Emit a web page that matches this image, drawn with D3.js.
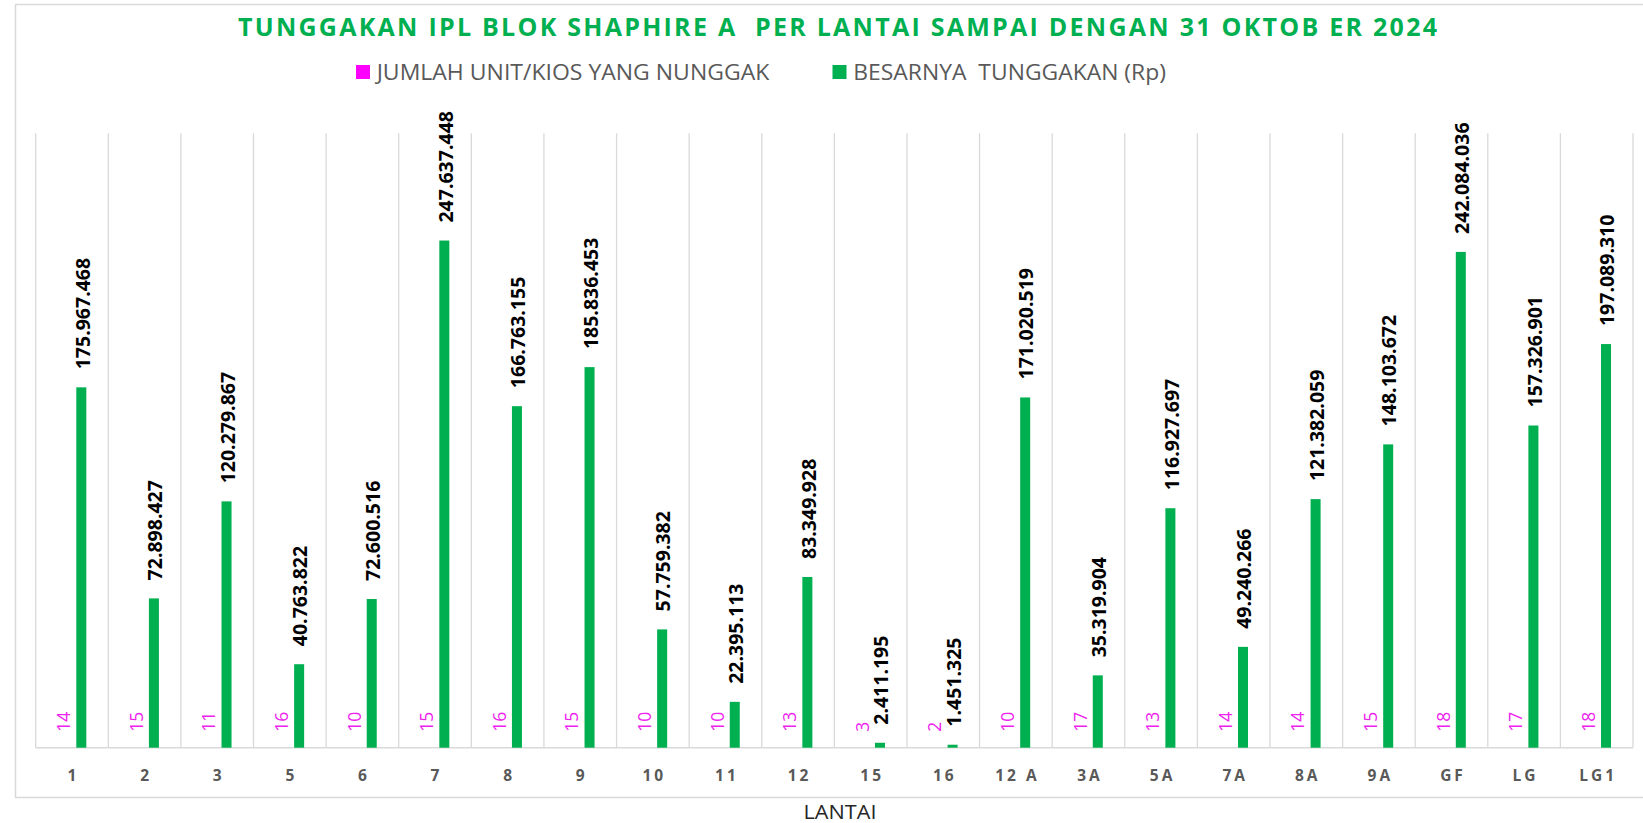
<!DOCTYPE html>
<html>
<head>
<meta charset="utf-8">
<script src="https://cdn.jsdelivr.net/npm/d3@7"></script>
<style>
  html, body { margin: 0; padding: 0; background: #ffffff; }
  svg { display: block; }
  text { white-space: pre; }
</style>
</head>
<body>
<svg id="chart" width="1643" height="823"></svg>
<script>
// ---------- DATA ----------
const chartTitle = "TUNGGAKAN IPL BLOK SHAPHIRE A  PER LANTAI SAMPAI DENGAN 31 OKTOB ER 2024";
const xAxisTitle = "LANTAI";
const categories = ["1","2","3","5","6","7","8","9","10","11","12","15","16","12 A","3A","5A","7A","8A","9A","GF","LG","LG1"];
const seriesNames = ["JUMLAH UNIT/KIOS YANG NUNGGAK", "BESARNYA  TUNGGAKAN (Rp)"];
const unitCounts = [14,15,11,16,10,15,16,15,10,10,13,3,2,10,17,13,14,14,15,18,17,18];
const arrears = [175967468,72898427,120279867,40763822,72600516,247637448,166763155,185836453,57759382,22395113,83349928,2411195,1451325,171020519,35319904,116927697,49240266,121382059,148103672,242084036,157326901,197089310];
const yDomainMax = 300000000;

// ---------- LAYOUT / STYLE ----------
const W = 1643, H = 823;
const plot = { left: 35.7, right: 1633, top: 133.3, bottom: 747.7 };
const colors = { count: "#ff00ff", amount: "#00b050" };
const grid = "#d9d9d9";

const svg = d3.select("#chart");

// outer chart border
svg.append("rect")
  .attr("x", 15.5).attr("y", 4.5)
  .attr("width", 1640).attr("height", 793)
  .attr("fill", "none").attr("stroke", grid).attr("stroke-width", 1.5);

// scales
const x0 = d3.scaleBand().domain(categories).range([plot.left, plot.right]).paddingInner(0).paddingOuter(0);
const x1 = d3.scaleBand().domain(seriesNames).range([0, x0.bandwidth()]).paddingInner(0.462).paddingOuter(1.18);
const y = d3.scaleLinear().domain([0, yDomainMax]).range([plot.bottom, plot.top]);

// vertical gridlines at category boundaries
const bounds = categories.map(c => x0(c)).concat([x0(categories[categories.length - 1]) + x0.bandwidth()]);
svg.append("g").selectAll("line").data(bounds).join("line")
  .attr("x1", d => d).attr("x2", d => d)
  .attr("y1", plot.top).attr("y2", plot.bottom)
  .attr("stroke", grid).attr("stroke-width", 1.3);

// baseline
svg.append("line")
  .attr("x1", plot.left).attr("x2", plot.right)
  .attr("y1", y(0)).attr("y2", y(0))
  .attr("stroke", grid).attr("stroke-width", 1.5);

const rows = categories.map((c, i) => ({ cat: c, count: unitCounts[i], amount: arrears[i] }));

// count bars (tiny on this scale)
svg.append("g").selectAll("rect").data(rows).join("rect")
  .attr("x", d => x0(d.cat) + x1(seriesNames[0]))
  .attr("width", x1.bandwidth())
  .attr("y", d => y(d.count))
  .attr("height", d => y(0) - y(d.count))
  .attr("fill", colors.count);

// amount bars
svg.append("g").selectAll("rect").data(rows).join("rect")
  .attr("x", d => x0(d.cat) + x1(seriesNames[1]))
  .attr("width", x1.bandwidth())
  .attr("y", d => y(d.amount))
  .attr("height", d => y(0) - y(d.amount))
  .attr("fill", colors.amount);

const fmt = v => d3.format(",")(v).replace(/,/g, ".");

// amount labels
svg.append("g").selectAll("text").data(rows).join("text")
  .attr("transform", d => {
    const cx = x0(d.cat) + x1(seriesNames[1]) + x1.bandwidth() / 2 + 0.8;
    const cy = y(d.amount) - 18;
    return `translate(${cx},${cy}) rotate(-90)`;
  })
  .attr("text-anchor", "start")
  .attr("dominant-baseline", "central")
  .attr("font-family", "'Open Sans', 'Liberation Sans', sans-serif")
  .attr("font-weight", 700)
  .attr("font-size", 19.5)
  .attr("fill", "#000000")
  .text(d => fmt(d.amount));

// count labels
svg.append("g").selectAll("text").data(rows).join("text")
  .attr("transform", d => {
    const cx = x0(d.cat) + x1(seriesNames[0]) + x1.bandwidth() / 2 + 0.5;
    const cy = y(d.count) - 16;
    return `translate(${cx},${cy}) rotate(-90)`;
  })
  .attr("text-anchor", "start")
  .attr("dominant-baseline", "central")
  .attr("font-family", "'Open Sans', 'Liberation Sans', sans-serif")
  .attr("font-weight", 400)
  .attr("font-size", 17.5)
  .attr("fill", "#ee22ee")
  .text(d => d.count);

// x axis
const xAxis = svg.append("g")
  .attr("transform", `translate(0,${plot.bottom})`)
  .call(d3.axisBottom(x0).tickSize(0).tickPadding(0));
xAxis.select(".domain").remove();
xAxis.selectAll("text")
  .attr("y", 33)
  .attr("dy", 0)
  .attr("dx", 1.5)
  .attr("font-family", "'Open Sans', 'Liberation Sans', sans-serif")
  .attr("font-weight", 700)
  .attr("font-size", 15.5)
  .attr("letter-spacing", 3)
  .attr("fill", "#595959");

// x axis title
svg.append("text")
  .attr("x", 840).attr("y", 818.5)
  .attr("text-anchor", "middle")
  .attr("font-family", "'Open Sans', 'Liberation Sans', sans-serif")
  .attr("font-size", 20)
  .attr("fill", "#262626")
  .attr("textLength", 73)
  .attr("lengthAdjust", "spacingAndGlyphs")
  .text(xAxisTitle);

// title
svg.append("text")
  .attr("x", 238).attr("y", 36)
  .attr("text-anchor", "start")
  .attr("font-family", "'Open Sans', 'Liberation Sans', sans-serif")
  .attr("font-weight", 700)
  .attr("font-size", 25)
  .attr("fill", "#00b050")
  .attr("textLength", 1199)
  .attr("lengthAdjust", "spacing")
  .text(chartTitle);

// legend
const legendItems = [
  { name: seriesNames[0], color: colors.count, sx: 356, tx: 376.7, tw: 392.6 },
  { name: seriesNames[1], color: colors.amount, sx: 832.5, tx: 853.3, tw: 312.7 }
];
const lg = svg.append("g").selectAll("g").data(legendItems).join("g");
lg.append("rect")
  .attr("x", d => d.sx).attr("y", 65)
  .attr("width", 14).attr("height", 14)
  .attr("fill", d => d.color);
lg.append("text")
  .attr("x", d => d.tx).attr("y", 80)
  .attr("font-family", "'Open Sans', 'Liberation Sans', sans-serif")
  .attr("font-size", 21)
  .attr("fill", "#595959")
  .attr("textLength", d => d.tw)
  .attr("lengthAdjust", "spacingAndGlyphs")
  .text(d => d.name);
</script>
</body>
</html>
